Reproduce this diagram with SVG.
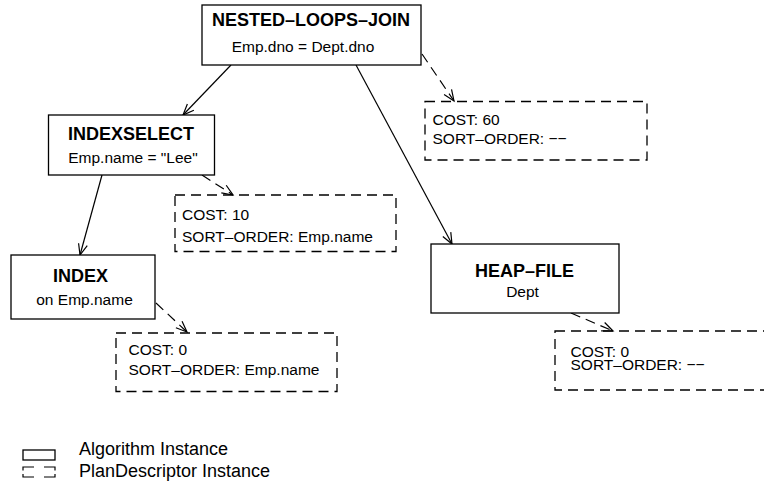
<svg xmlns="http://www.w3.org/2000/svg" width="764" height="490" viewBox="0 0 764 490">
<style>
text{font-family:"Liberation Sans",Arial,sans-serif;fill:#000}
.t{font-size:18px;font-weight:bold;text-anchor:middle}
.s{font-size:15.5px;text-anchor:middle}
.d{font-size:15.5px}
.lg{font-size:18px}
.alg{fill:#fff;stroke:#000;stroke-width:1.3}
.pd{fill:none;stroke:#000;stroke-width:1.3;stroke-dasharray:10 6}
.c{stroke:#000;stroke-width:1.2;fill:none}
.cd{stroke:#000;stroke-width:1.2;fill:none;stroke-dasharray:10 6}
</style>
<defs>
<marker id="ah" markerUnits="userSpaceOnUse" markerWidth="14" markerHeight="12" viewBox="-12 -6 14 12" refX="0" refY="0" orient="auto">
<path d="M-11,-4.5 L0,0 L-11,4.5" fill="none" stroke="#000" stroke-width="1.2"/>
</marker>
</defs>
<rect width="764" height="490" fill="#fff"/>
<g id="connectors">
<line class="c" x1="231" y1="65" x2="183" y2="115" marker-end="url(#ah)"/>
<line class="c" x1="356" y1="65" x2="452" y2="244" marker-end="url(#ah)"/>
<line class="c" x1="102" y1="175" x2="80" y2="255" marker-end="url(#ah)"/>
<line class="cd" x1="422" y1="54" x2="454" y2="101" marker-end="url(#ah)"/>
<line class="cd" x1="202" y1="175" x2="233" y2="195" marker-end="url(#ah)"/>
<line class="cd" x1="156" y1="303" x2="187" y2="332" marker-end="url(#ah)"/>
<line class="cd" x1="571" y1="313" x2="613" y2="331" marker-end="url(#ah)"/>
</g>
<g id="nlj">
<rect class="alg" x="202" y="5" width="219" height="60"/>
<text class="t" x="311" y="26">NESTED–LOOPS–JOIN</text>
<text class="s" x="303" y="52">Emp.dno = Dept.dno</text>
</g>
<g id="pd-nlj">
<rect class="pd" x="425" y="101.5" width="222" height="58.5"/>
<text class="d" x="432.5" y="125">COST: 60</text>
<text class="d" x="432.5" y="143.5">SORT–ORDER: −−</text>
</g>
<g id="indexselect">
<rect class="alg" x="48.5" y="115" width="166" height="60"/>
<text class="t" x="131" y="140">INDEXSELECT</text>
<text class="s" x="133" y="163">Emp.name = "Lee"</text>
</g>
<g id="pd-indexselect">
<rect class="pd" x="175" y="195" width="221" height="56.5"/>
<text class="d" x="182" y="220">COST: 10</text>
<text class="d" x="182" y="241.5">SORT–ORDER: Emp.name</text>
</g>
<g id="index">
<rect class="alg" x="11" y="255" width="144" height="64"/>
<text class="t" x="80.5" y="281.5">INDEX</text>
<text class="s" x="84.5" y="305">on Emp.name</text>
</g>
<g id="pd-index">
<rect class="pd" x="116" y="333" width="221" height="58.5"/>
<text class="d" x="128.5" y="355">COST: 0</text>
<text class="d" x="128.5" y="375">SORT–ORDER: Emp.name</text>
</g>
<g id="heapfile">
<rect class="alg" x="431" y="244" width="188" height="69"/>
<text class="t" x="524.5" y="276.5">HEAP–FILE</text>
<text class="s" x="522.5" y="296.5">Dept</text>
</g>
<g id="pd-heapfile">
<rect class="pd" x="555" y="331" width="230" height="59"/>
<text class="d" x="570.5" y="356.5">COST: 0</text>
<text class="d" x="570.5" y="370">SORT–ORDER: −−</text>
</g>
<g id="legend">
<rect class="alg" x="23" y="450" width="32" height="10"/>
<text class="lg" x="79" y="455">Algorithm Instance</text>
<path class="c" d="M23,470.5V467H34M44,467H55V470.5M23,474V477H34M44,477H55V474"/>
<text class="lg" x="79" y="476.5">PlanDescriptor Instance</text>
</g>
</svg>
